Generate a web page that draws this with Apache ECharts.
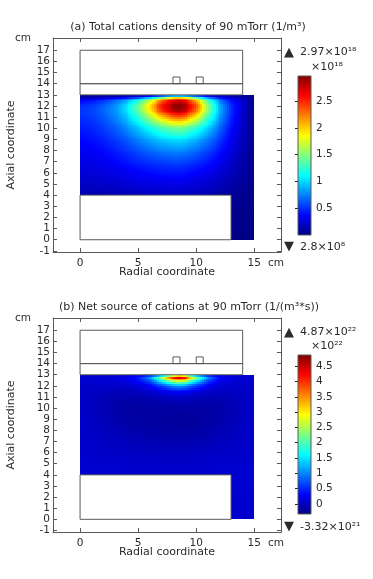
<!DOCTYPE html>
<html>
<head>
<meta charset="utf-8">
<style>html,body{margin:0;padding:0;background:#fff}#c{width:373px;height:579px;filter:blur(0.6px)}</style>
<script src="https://cdn.jsdelivr.net/npm/echarts@6/dist/echarts.min.js"></script>
</head>
<body>
<div id="c"></div>
<script>
// ---- values ----
var radialTicks = [0, 5, 10, 15];
var axialTicks = [-1,0,1,2,3,4,5,6,7,8,9,10,11,12,13,14,15,16,17];
var radialCm = [0,1,2,3,4,5,6,7,8,8.5,9,10,11,12,13,14,15];
var axialCm = [13,12.8,12.5,12,11.5,11,10.5,10,9,8,7,6,5,4];
var legRadialCm = [13,14,15];
var legAxialCm = [4,2,0];

// total cations density, in units of 1e18 1/m^3
var densityRows = [
 [.04,.04,.04,.04,.05,.05,.06,.08,.1,.1,.1,.08,.06,.05,.04,.03,.02],
 [.10,.12,.15,.20,.30,.45,.75,1.2,1.7,1.8,1.7,1.2,.65,.35,.2,.1,.03],
 [.35,.40,.50,.65,.85,1.15,1.65,2.25,2.65,2.7,2.6,2.1,1.3,.75,.4,.2,.05],
 [.50,.55,.65,.80,1.05,1.40,1.95,2.55,2.92,2.97,2.88,2.4,1.55,.9,.5,.22,.05],
 [.52,.56,.66,.80,1.03,1.35,1.85,2.4,2.75,2.8,2.72,2.25,1.5,.9,.5,.22,.05],
 [.5,.54,.62,.76,.95,1.22,1.6,2.0,2.3,2.35,2.28,1.9,1.32,.84,.47,.2,.05],
 [.47,.5,.58,.7,.87,1.08,1.35,1.62,1.82,1.85,1.8,1.55,1.15,.76,.43,.19,.05],
 [.44,.47,.54,.64,.78,.95,1.15,1.33,1.45,1.47,1.43,1.26,.98,.68,.4,.18,.05],
 [.38,.41,.46,.54,.63,.75,.87,.97,1.03,1.04,1.02,.91,.74,.54,.33,.16,.05],
 [.33,.35,.39,.45,.52,.6,.68,.74,.77,.78,.76,.69,.57,.43,.28,.14,.04],
 [.29,.30,.33,.37,.42,.47,.52,.55,.57,.57,.56,.51,.43,.33,.22,.12,.04],
 [.25,.26,.28,.30,.33,.36,.39,.41,.42,.42,.41,.37,.32,.25,.17,.1,.04],
 [.2,.21,.22,.23,.25,.27,.28,.29,.3,.3,.29,.26,.23,.18,.13,.08,.03],
 [.14,.14,.15,.16,.17,.18,.19,.19,.2,.2,.19,.17,.15,.11,.07,.05,.02]
];
var densityLegRows = [[.07,.05,.02],[.04,.03,.02],[.02,.02,.01]];

// net source of cations, in units of 1e22 1/(m^3*s)
var sourceRows = [
 [0,0,0,0,0,.05,.1,.3,1.2,1.5,1.2,.3,.1,0,0,0,0],
 [.1,.1,.12,.14,.2,.45,1.1,2.6,4.4,4.87,4.5,2.6,1.1,.35,.15,.1,.08],
 [.08,.08,.1,.12,.18,.35,.8,1.8,2.9,3.1,2.9,1.75,.75,.25,.12,.08,.08],
 [.05,.05,.05,.05,.06,.12,.28,.62,1.0,1.1,1.0,.58,.26,.1,.06,.05,.05],
 [.05,.03,0,-.03,-.05,0,.08,.2,.33,.36,.32,.18,.06,.01,.01,.04,.05],
 [.05,.01,-.04,-.08,-.1,-.1,-.07,-.02,.03,.04,.03,-.02,-.05,-.06,-.04,.01,.05],
 [.05,0,-.06,-.11,-.13,-.14,-.13,-.1,-.08,-.08,-.08,-.1,-.11,-.09,-.06,0,.05],
 [.05,0,-.07,-.12,-.15,-.16,-.16,-.15,-.14,-.14,-.14,-.14,-.14,-.11,-.07,0,.05],
 [.05,.02,-.04,-.1,-.13,-.15,-.17,-.18,-.19,-.19,-.19,-.18,-.15,-.11,-.06,.01,.05],
 [.05,.03,0,-.05,-.09,-.11,-.13,-.15,-.16,-.16,-.16,-.14,-.11,-.07,-.03,.02,.06],
 [.06,.05,.02,-.01,-.03,-.05,-.07,-.08,-.09,-.09,-.09,-.07,-.05,-.02,.01,.04,.06],
 [.07,.06,.05,.03,.02,.01,0,-.01,-.01,-.01,-.01,0,.02,.03,.04,.06,.07],
 [.08,.07,.07,.06,.06,.05,.05,.04,.04,.04,.04,.05,.05,.06,.07,.07,.08],
 [.08,.08,.08,.08,.07,.07,.07,.07,.07,.07,.07,.07,.07,.08,.08,.08,.08]
];
var sourceLegRows = [[.08,.08,.08],[.07,.07,.07],[.07,.07,.07]];

var densityTicks = [0.5,1,1.5,2,2.5];
var densityRange = [0,2.97];
var sourceTicks = [0,0.5,1,1.5,2,2.5,3,3.5,4,4.5];
var sourceRange = [-0.332,4.87];

// geometry outline rectangles: x0, y0, x1, y1 in cm
var outlineRects = [
 [0,14,14,17],[0,13,14,14],[8,14,8.6,14.6],[10,14,10.6,14.6],[0,0,13,4]
];
var jetColors = ['#00007f','#0000ff','#007fff','#00ffff','#7fff7f','#ffff00','#ff7f00','#ff0000','#7f0000'];

// ---- chart ----
var FONT = '"DejaVu Sans"', TXT = '#2b2b2b', LINE = '#5a5a5a';

function cells(xs, ys, rows) {
  var out = [];
  for (var j = 0; j < ys.length - 1; j++)
    for (var i = 0; i < xs.length - 1; i++)
      out.push([xs[i], xs[i+1], ys[j], ys[j+1], rows[j][i], rows[j][i+1], rows[j+1][i], rows[j+1][i+1]]);
  return out;
}
function fieldSeries(idx, xs, ys, rows, legRows, range) {
  var data = cells(xs, ys, rows).concat(cells(legRadialCm, legAxialCm, legRows));
  return {
    type: 'custom', xAxisIndex: idx*2, yAxisIndex: idx*2, silent: true, animation: false, z: 1,
    data: data, encode: {x: [0,1], y: [2,3]},
    renderItem: function (p, api) {
      var x0 = api.value(0), x1 = api.value(1), y0 = api.value(2), y1 = api.value(3);
      var v00 = api.value(4), v10 = api.value(5), v01 = api.value(6), v11 = api.value(7);
      var a = api.coord([x0,y0]), b = api.coord([x1,y1]);
      var nx = Math.max(1, Math.round((b[0]-a[0])/2)), ny = Math.max(1, Math.round((b[1]-a[1])/2));
      var kids = [];
      for (var m = 0; m < ny; m++) for (var n = 0; n < nx; n++) {
        var u = (n+.5)/nx, w = (m+.5)/ny;
        var val = v00*(1-u)*(1-w) + v10*u*(1-w) + v01*(1-u)*w + v11*u*w;
        var l = Math.round(a[0]+(b[0]-a[0])*n/nx), r = Math.round(a[0]+(b[0]-a[0])*(n+1)/nx);
        var t = Math.round(a[1]+(b[1]-a[1])*m/ny), d = Math.round(a[1]+(b[1]-a[1])*(m+1)/ny);
        kids.push({type:'rect', shape:{x:l,y:t,width:r-l,height:d-t},
          style:{fill: echarts.color.lerp(Math.min(1,Math.max(0,(val-range[0])/(range[1]-range[0]))), jetColors)}});
      }
      return {type:'group', children:kids};
    }
  };
}
function outlineSeries(idx) {
  return {
    type:'custom', xAxisIndex: idx*2, yAxisIndex: idx*2, silent:true, animation:false, z:3,
    data: outlineRects, encode:{x:[0,2], y:[1,3]},
    renderItem:function(p,api){
      var a=api.coord([api.value(0),api.value(3)]), b=api.coord([api.value(2),api.value(1)]);
      return {type:'rect', shape:{x:a[0],y:a[1],width:b[0]-a[0],height:b[1]-a[1]},
        style:{fill:'none',stroke:LINE,lineWidth:1}};
    }
  };
}
function barSeries(xIdx, yIdx, range) {
  return {
    type:'custom', xAxisIndex:xIdx, yAxisIndex:yIdx, silent:true, animation:false, z:1,
    data:[[0,range[0],1,range[1]]], encode:{x:[0,2], y:[1,3]},
    renderItem:function(p,api){
      var a=api.coord([api.value(0),api.value(3)]), b=api.coord([api.value(2),api.value(1)]);
      var stops=jetColors.map(function(c,i){return {offset:i/(jetColors.length-1),color:c};});
      return {type:'rect', shape:{x:a[0],y:a[1],width:b[0]-a[0],height:b[1]-a[1]},
        style:{fill:new echarts.graphic.LinearGradient(0,1,0,0,stops),stroke:LINE,lineWidth:1}};
    }
  };
}
function mainAxes(gridIndex, ymin, ymax) {
  var line = {show:true, onZero:false, lineStyle:{color:LINE,width:1}};
  var xt = {show:true, inside:true, length:4, customValues:radialTicks, lineStyle:{color:LINE}};
  var yt = {show:true, inside:true, length:4, customValues:axialTicks, lineStyle:{color:LINE}};
  return {
    x:[{type:'value',gridIndex:gridIndex,min:-2.33,max:17.3,position:'bottom',axisLine:line,axisTick:xt,splitLine:{show:false},
        axisLabel:{customValues:radialTicks,color:TXT,fontFamily:FONT,fontSize:10.5,margin:6},
        name:'Radial coordinate',nameLocation:'middle',nameGap:15,nameMoveOverlap:false,nameTextStyle:{color:TXT,fontFamily:FONT,fontSize:11}},
       {type:'value',gridIndex:gridIndex,min:-2.33,max:17.3,position:'top',axisLine:line,axisTick:xt,axisLabel:{show:false},splitLine:{show:false}}],
    y:[{type:'value',gridIndex:gridIndex,min:ymin,max:ymax,position:'left',axisLine:line,axisTick:yt,splitLine:{show:false},
        axisLabel:{customValues:axialTicks,color:TXT,fontFamily:FONT,fontSize:10.5,margin:3},
        name:'Axial coordinate',nameLocation:'middle',nameGap:36,nameTextStyle:{color:TXT,fontFamily:FONT,fontSize:11}},
       {type:'value',gridIndex:gridIndex,min:ymin,max:ymax,position:'right',axisLine:line,axisTick:yt,axisLabel:{show:false},splitLine:{show:false}}]
  };
}
function barAxes(gridIndex, ticks, range) {
  return {
    x:{type:'value',gridIndex:gridIndex,min:0,max:1,show:false},
    y:{type:'value',gridIndex:gridIndex,min:range[0],max:range[1],position:'right',splitLine:{show:false},
       axisLine:{show:false},
       axisTick:{show:true,inside:true,length:3,customValues:ticks,lineStyle:{color:'#222'}},
       axisLabel:{customValues:ticks,color:TXT,fontFamily:FONT,fontSize:10.5,margin:5}}
  };
}
function txt(s, left, top, align, size) {
  return {text:s,left:left,top:top,textAlign:align||'left',padding:0,itemGap:0,
    textStyle:{color:TXT,fontFamily:FONT,fontSize:size||10.5,fontWeight:'normal'}};
}

var A = mainAxes(0,-1.1,18.1), B = mainAxes(1,-1.14,18.1);
var barA = barAxes(2, densityTicks, densityRange), barB = barAxes(3, sourceTicks, sourceRange);

var option = {
  animation:false,
  backgroundColor:'#fff',
  title:[
    txt('(a) Total cations density of 90 mTorr (1/m³)',188,22,'center',11),
    txt('cm',15,33), txt('cm',268,258),
    txt('▲',284,46,'left',13), txt('2.97×10¹⁸',300,47,'left',11), txt('×10¹⁸',311,62,'left',11),
    txt('▼',284,240,'left',13), txt('2.8×10⁸',300,242,'left',11),
    txt('(b) Net source of cations at 90 mTorr (1/(m³*s))',189,302,'center',11),
    txt('cm',15,313), txt('cm',268,538),
    txt('▲',284,326,'left',13), txt('4.87×10²²',300,327,'left',11), txt('×10²²',311,341,'left',11),
    txt('▼',284,520,'left',13), txt('-3.32×10²¹',300,522,'left',11)
  ],
  grid:[
    {left:53,top:38,width:228,height:214,outerBoundsMode:'none'},
    {left:53,top:318,width:228,height:214,outerBoundsMode:'none'},
    {left:298,top:76,width:13,height:159,outerBoundsMode:'none'},
    {left:298,top:355,width:13,height:159,outerBoundsMode:'none'}
  ],
  xAxis:[A.x[0],A.x[1],B.x[0],B.x[1],barA.x,barB.x],
  yAxis:[A.y[0],A.y[1],B.y[0],B.y[1],barA.y,barB.y],
  series:[
    fieldSeries(0,radialCm,axialCm,densityRows,densityLegRows,densityRange),
    outlineSeries(0),
    fieldSeries(1,radialCm,axialCm,sourceRows,sourceLegRows,sourceRange),
    outlineSeries(1),
    barSeries(4,4,densityRange),
    barSeries(5,5,sourceRange)
  ]
};
var chart = echarts.init(document.getElementById('c'),null,{renderer:'canvas'});
chart.setOption(option);
</script>
</body>
</html>
